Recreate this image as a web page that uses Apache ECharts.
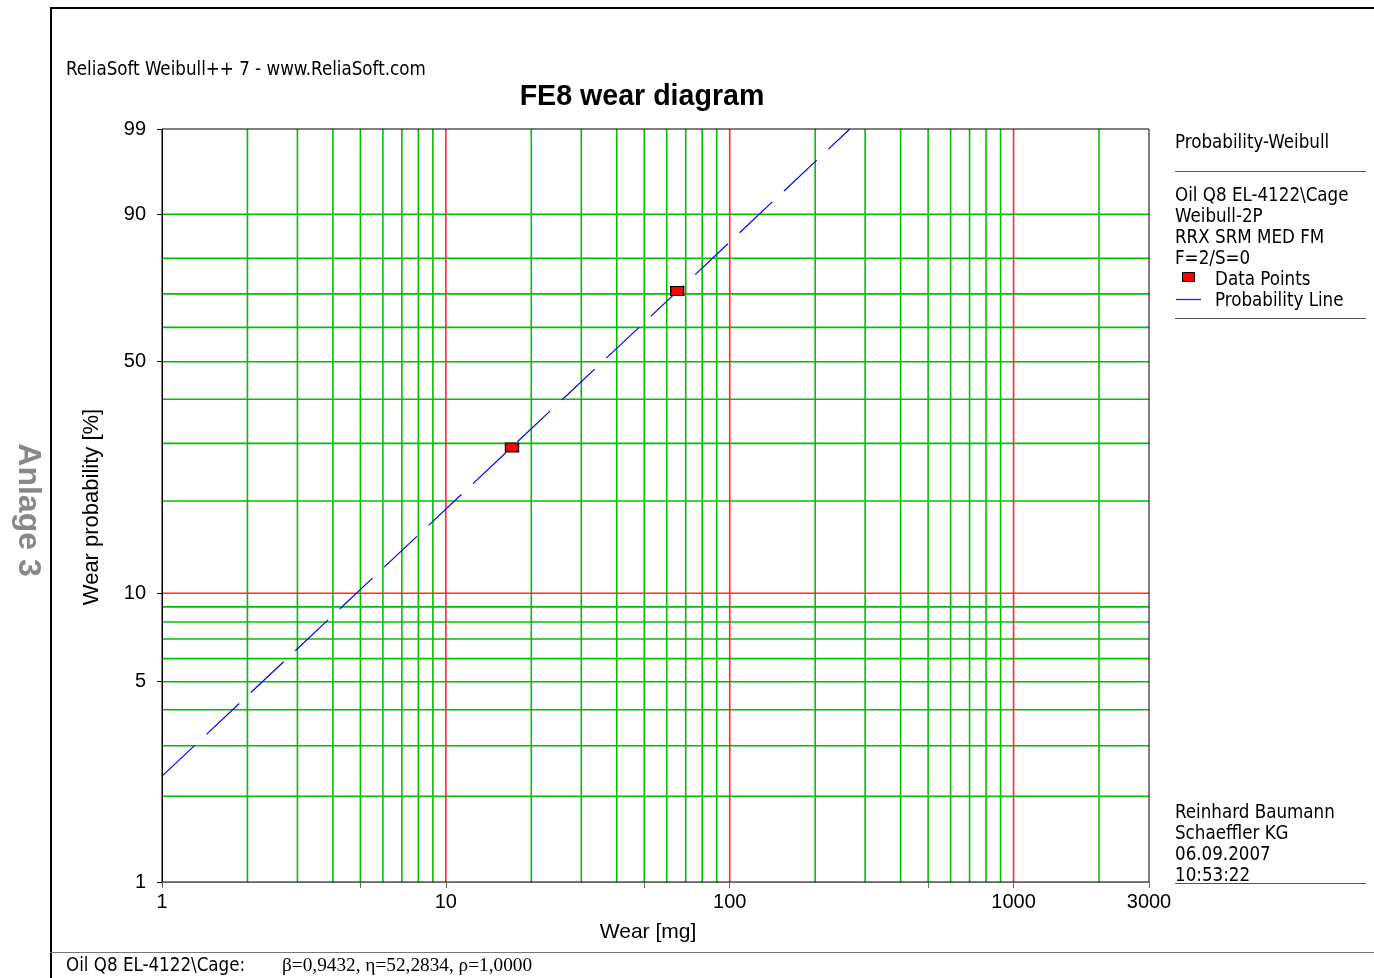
<!DOCTYPE html>
<html><head><meta charset="utf-8">
<script src="https://cdn.jsdelivr.net/npm/echarts@6/dist/echarts.min.js"></script>
<style>html,body{margin:0;padding:0;background:#fff;} #c{width:1374px;height:978px;}</style>
</head><body><div id="c"></div>
<script>
// ---- data ----
const pointWear = [17.1, 65.3];          // mg
const pointProb = [29.17, 70.83];        // %
const lineWear = [1, 265];               // mg (probability line end points)
const lineProb = [2.35, 99];             // %
const xTickLabels = [1, 10, 100, 1000, 3000];
const xTickMarks = [1, 5, 10, 50, 100, 500, 1000, 3000];
const yTickLabels = [1, 5, 10, 50, 90, 99];
const xGridGreen = [2,3,4,5,6,7,8,9,20,30,40,50,60,70,80,90,200,300,400,500,600,700,800,900,2000];
const xGridRed = [10, 100, 1000];
const yGridGreen = [2,3,4,5,6,7,8,9,20,30,40,50,60,70,80,90];
const yGridRed = [10];
const xRange = [1, 3000];
const yRange = [1, 99];

// ---- scale transforms (log x, Weibull y) ----
const L = x => Math.log10(x);
const W = p => Math.log(-Math.log(1 - p / 100));
const Winv = v => 100 * (1 - Math.exp(-Math.exp(v)));

const SIDE = '"DejaVu Sans Condensed", "DejaVu Sans", sans-serif';
const ARIAL = '"Liberation Sans", Arial, sans-serif';
const GREEN = '#00c000';
const RED = '#ff2a2a';
const GW = 1.6;

const chart = echarts.init(document.getElementById('c'), null, {renderer: 'canvas'});

function txt(text, x, y, font, extra) {
  return {type: 'text', silent: true, style: Object.assign({text: text, x: x, y: y, font: font, fill: '#000', textVerticalAlign: 'middle'}, extra || {})};
}
function ln(x1, y1, x2, y2, stroke, w) {
  return {type: 'line', silent: true, shape: {x1: x1, y1: y1, x2: x2, y2: y2}, style: {stroke: stroke, lineWidth: w}};
}
function gridSeries(vals, vertical, color, z) {
  return vals.map(v => ({
    type: 'line', silent: true, symbol: 'none', z: z, animation: false,
    data: vertical ? [[L(v), W(yRange[0])], [L(v), W(yRange[1])]]
                   : [[L(xRange[0]), W(v)], [L(xRange[1]), W(v)]],
    lineStyle: {color: color, width: GW, type: 'solid', opacity: 1},
    emphasis: {disabled: true}, tooltip: {show: false}
  }));
}

const option = {
  animation: false,
  backgroundColor: '#fff',
  grid: {left: 162, top: 129, width: 987, height: 753, show: true, borderColor: '#000', borderWidth: 1, backgroundColor: 'transparent', z: 3},
  xAxis: {
    type: 'value', min: L(xRange[0]), max: L(xRange[1]), position: 'bottom', z: 5,
    axisLine: {show: true, onZero: false, lineStyle: {color: '#666', width: 1}},
    axisTick: {show: true, length: 6, customValues: xTickMarks.map(L), lineStyle: {color: '#666'}},
    axisLabel: {customValues: xTickLabels.map(L), formatter: v => String(Math.round(Math.pow(10, v))), color: '#000', fontSize: 20, fontFamily: ARIAL, margin: 10},
    splitLine: {show: false}
  },
  yAxis: {
    type: 'value', min: W(yRange[0]), max: W(yRange[1]), position: 'left', z: 5,
    axisLine: {show: true, onZero: false, lineStyle: {color: '#000', width: 1}},
    axisTick: {show: true, length: 5, customValues: yTickLabels.map(W), lineStyle: {color: '#000'}},
    axisLabel: {customValues: yTickLabels.map(W), formatter: v => String(Math.round(Winv(v))), color: '#000', fontSize: 20, fontFamily: ARIAL, margin: 16},
    splitLine: {show: false}
  },
  series: [].concat(
    gridSeries(xGridGreen, true, GREEN, 1),
    gridSeries(yGridGreen, false, GREEN, 1),
    gridSeries(xGridRed, true, RED, 2),
    gridSeries(yGridRed, false, RED, 2),
    [
      {
        name: 'Probability Line', type: 'line', z: 3, silent: true, symbol: 'none',
        data: lineWear.map((w, i) => [L(w), W(lineProb[i])]),
        lineStyle: {color: '#0000ff', width: 1.2, type: [45, 16]}
      },
      {
        name: 'Data Points', type: 'scatter', z: 4, silent: true, symbol: 'rect', symbolSize: [13, 9],
        data: pointWear.map((w, i) => [L(w), W(pointProb[i])]),
        itemStyle: {color: '#ff0000', borderColor: '#000', borderWidth: 1.2, opacity: 1}
      }
    ]
  ),
  graphic: [
    // frame
    ln(51, 8, 51, 978, '#000', 2),
    ln(50, 8, 1374, 8, '#000', 2),
    ln(50, 952.5, 1374, 952.5, '#777', 1),
    // side label
    {type: 'text', silent: true, x: 28, y: 510, rotation: -Math.PI / 2,
     style: {text: 'Anlage 3', x: 0, y: 0, font: 'bold 32px ' + ARIAL, fill: '#888', textAlign: 'center', textVerticalAlign: 'middle'}},
    // y title
    {type: 'text', silent: true, x: 92, y: 507, rotation: Math.PI / 2,
     style: {text: 'Wear probability [%]', x: 0, y: 0, font: '22px ' + ARIAL, fill: '#000', textAlign: 'center', textVerticalAlign: 'middle'}},
    // x title
    txt('Wear [mg]', 648, 932, '21px ' + ARIAL, {textAlign: 'center'}),
    // header
    txt('ReliaSoft Weibull++ 7 - www.ReliaSoft.com', 66, 70, '18.6px ' + SIDE),
    txt('FE8 wear diagram', 642, 97, 'bold 28.6px ' + ARIAL, {textAlign: 'center'}),
    // right panel
    txt('Probability-Weibull', 1175, 143, '18.6px ' + SIDE),
    ln(1175, 171.5, 1366, 171.5, '#555', 1),
    txt('Oil Q8 EL-4122\\Cage', 1175, 196, '18.6px ' + SIDE),
    txt('Weibull-2P', 1175, 217, '18.6px ' + SIDE),
    txt('RRX SRM MED FM', 1175, 238, '18.6px ' + SIDE),
    txt('F=2/S=0', 1175, 259, '18.6px ' + SIDE),
    {type: 'rect', silent: true, shape: {x: 1182.5, y: 272.5, width: 12, height: 9}, style: {fill: '#ff0000', stroke: '#000', lineWidth: 1}},
    txt('Data Points', 1215, 280, '18.6px ' + SIDE),
    ln(1176, 299.5, 1201, 299.5, '#2020ff', 1.3),
    txt('Probability Line', 1215, 301, '18.6px ' + SIDE),
    ln(1175, 318.5, 1366, 318.5, '#555', 1),
    txt('Reinhard Baumann', 1175, 813, '18.6px ' + SIDE),
    txt('Schaeffler KG', 1175, 834, '18.6px ' + SIDE),
    txt('06.09.2007', 1175, 855, '18.6px ' + SIDE),
    txt('10:53:22', 1175, 876, '18.6px ' + SIDE),
    ln(1175, 883.5, 1366, 883.5, '#555', 1),
    // footer
    txt('Oil Q8 EL-4122\\Cage:', 66, 966, '18.6px ' + SIDE),
    txt('\u03b2=0,9432, \u03b7=52,2834, \u03c1=1,0000', 282, 966, '19.3px "Liberation Serif", "Times New Roman", serif')
  ]
};
chart.setOption(option);
</script>
</body></html>
